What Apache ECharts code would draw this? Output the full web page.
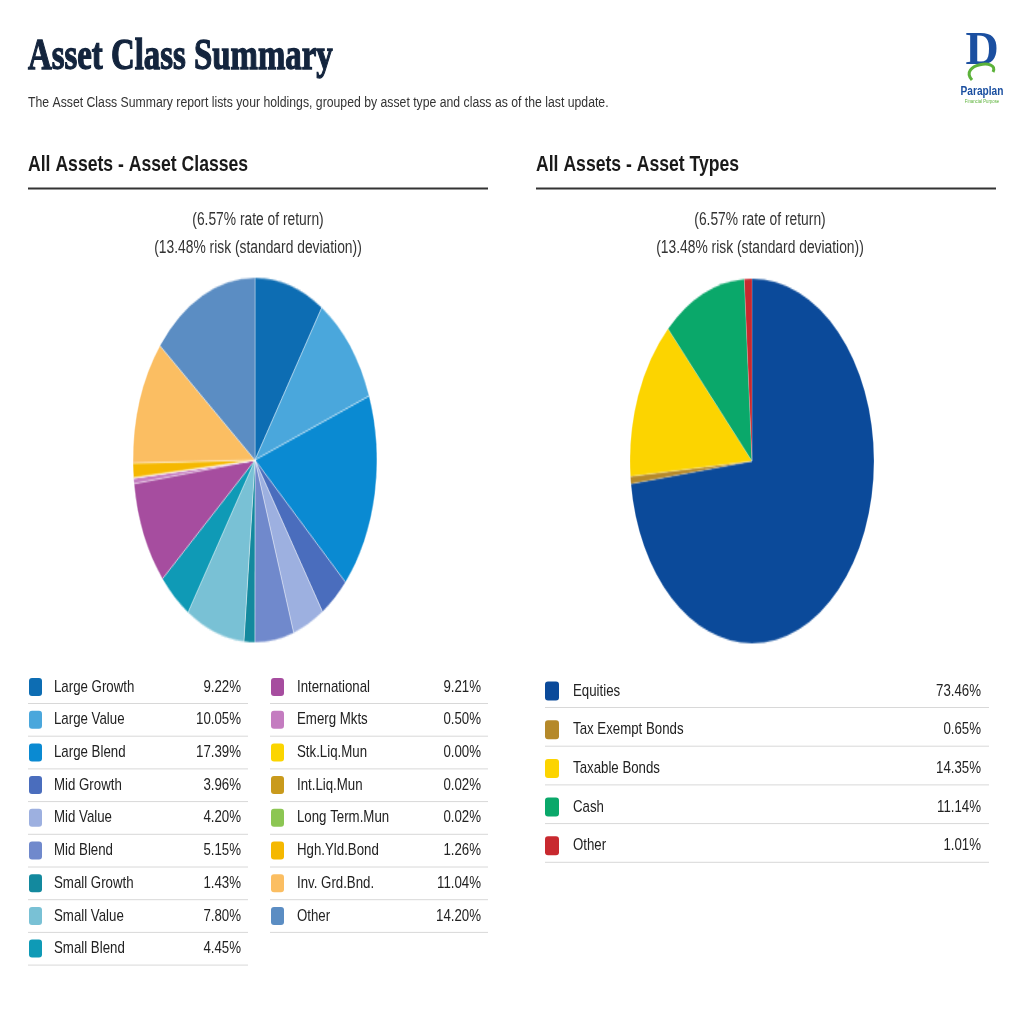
<!DOCTYPE html>
<html><head><meta charset="utf-8">
<script src="https://cdn.jsdelivr.net/npm/echarts@6/dist/echarts.min.js"></script>
<style>
html,body{margin:0;padding:0;background:#fff;}
#main{position:absolute;left:0;top:0;width:1024px;height:1024px;}
.pie{position:absolute;width:250px;height:250px;transform:scaleY(1.495);transform-origin:50% 50%;}
#pieL{left:130px;top:335px;}
#pieR{left:627px;top:336px;}
</style></head>
<body>
<div id="main"></div>
<div id="pieL" class="pie"></div>
<div id="pieR" class="pie"></div>
<script>
// ---- data ----
const classNames = ['Large Growth','Large Value','Large Blend','Mid Growth','Mid Value','Mid Blend','Small Growth','Small Value','Small Blend','International','Emerg Mkts','Stk.Liq.Mun','Int.Liq.Mun','Long Term.Mun','Hgh.Yld.Bond','Inv. Grd.Bnd.','Other'];
const classValues = [9.22,10.05,17.39,3.96,4.20,5.15,1.43,7.80,4.45,9.21,0.50,0.00,0.02,0.02,1.26,11.04,14.20];
const classColors = ['#0d6db3','#4aa7dc','#0a8ad2','#4a6dbd','#9db0e0','#7089cc','#13899e','#79c1d5','#0f9ab6','#a64d9f','#c47cc0','#fbd500','#c99a1c','#8cc653','#f5b800','#fbbe62','#5b8dc3'];
const typeNames = ['Equities','Tax Exempt Bonds','Taxable Bonds','Cash','Other'];
const typeValues = [73.46,0.65,14.35,11.14,1.01];
const typeColors = ['#0b4a9a','#b5892a','#fcd400','#0aa86a','#c8292f'];
const statLines = ['(6.57% rate of return)','(13.48% risk (standard deviation))'];

const SANS = '"Liberation Sans",Arial,sans-serif';
const NX = 0.78; // horizontal condensing of the sans text
const fmt = v => v.toFixed(2) + '%';

// ---- main canvas (text, legends) ----
const main = echarts.init(document.getElementById('main'), null, {renderer:'canvas'});
const g = [];
function txt(x, y, text, size, opt){
  opt = opt || {};
  const st = {text:text, fontFamily:opt.family || SANS, fontSize:size, fontWeight:opt.weight || 'normal',
      fill:opt.fill || '#222', align:opt.align || 'left', verticalAlign:opt.va || 'middle'};
  if (opt.stroke) { st.stroke = opt.fill; st.lineWidth = opt.stroke; }
  g.push({type:'text', x:x, y:y, scaleX:opt.sx || NX, originX:0, originY:0, style:st});
}
// title
txt(28, 57, 'Asset Class Summary', 45, {family:'"Liberation Serif","DejaVu Serif",serif', weight:'bold', fill:'#13243d', sx:0.73, stroke:1.3});
txt(28, 103, 'The Asset Class Summary report lists your holdings, grouped by asset type and class as of the last update.', 15.5, {fill:'#333', sx:0.79});
// logo
txt(982, 52, 'D', 46, {family:'"Liberation Serif",serif', weight:'bold', fill:'#1b4fa0', align:'center', sx:1});
g.push({type:'bezierCurve', shape:{x1:972,y1:80,x2:993,y2:72,cpx1:958,cpy1:64,cpx2:1000,cpy2:58}, style:{stroke:'#5cb23a', lineWidth:3, fill:null}});
txt(982, 91, 'Paraplan', 13, {weight:'bold', fill:'#1b4fa0', align:'center'});
txt(982, 101, 'Financial Purpose', 5.5, {fill:'#5cb23a', align:'center'});

// section headings
function section(x, title, cx){
  txt(x, 165, title, 22, {weight:'bold', fill:'#1a1a1a', sx:0.80});
  g.push({type:'line', shape:{x1:x, y1:188.5, x2:x+460, y2:188.5}, style:{stroke:'#333', lineWidth:2}});
  statLines.forEach((s,i)=>{ txt(cx, 220+i*28, s, 17.5, {fill:'#333', align:'center', sx:0.79}); });
}
section(28,'All Assets - Asset Classes',258);
section(536,'All Assets - Asset Types',760);

// legend tables
function legendRows(names, values, colors, x0, x1, swX, labX, valX, y0, step, sw, sh){
  names.forEach((n,i)=>{
    const cy = y0 + i*step;
    g.push({type:'rect', shape:{x:swX, y:cy-sh/2, width:sw, height:sh, r:3}, style:{fill:colors[i]}});
    txt(labX, cy, n, 17);
    txt(valX, cy, fmt(values[i]), 17, {align:'right'});
    g.push({type:'line', shape:{x1:x0, y1:cy+16.5, x2:x1, y2:cy+16.5}, style:{stroke:'#d8d8d8', lineWidth:1}});
  });
}
const split = 9;
legendRows(classNames.slice(0,split), classValues.slice(0,split), classColors.slice(0,split), 28, 248, 29, 54, 241, 687, 32.7, 13, 18);
legendRows(classNames.slice(split), classValues.slice(split), classColors.slice(split), 270, 488, 271, 297, 481, 687, 32.7, 13, 18);
legendRows(typeNames, typeValues, typeColors, 545, 989, 545, 573, 981, 691, 38.7, 14, 19);

main.setOption({animation:false, graphic:g});

// ---- pies ----
function pie(id, names, values, colors, bw){
  const c = echarts.init(document.getElementById(id), null, {renderer:'canvas'});
  c.setOption({
    animation:false,
    series:[{type:'pie', radius:[0,122], center:['50%','50%'], startAngle:90, clockwise:true,
      label:{show:false}, labelLine:{show:false}, silent:true, minAngle:0, stillShowZeroSum:true,
      itemStyle:{borderColor:'rgba(255,255,255,0.6)', borderWidth:bw},
      data:names.map((n,i)=>({name:n, value:values[i], itemStyle:{color:colors[i]}}))
    }]
  });
}
pie('pieL', classNames, classValues, classColors, 0.6);
pie('pieR', typeNames, typeValues, typeColors, 0.3);
</script>
</body></html>
